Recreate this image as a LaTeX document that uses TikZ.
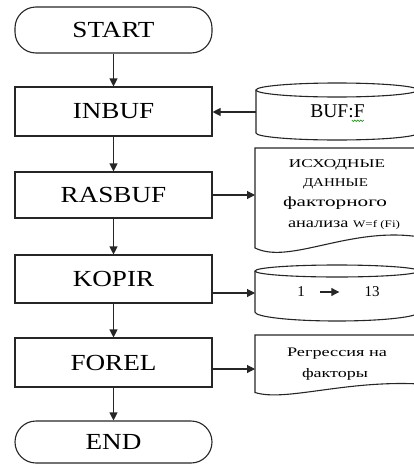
\documentclass[tikz,border=0pt]{standalone}
\usepackage{fontspec}
\setmainfont{Liberation Serif}
\usetikzlibrary{arrows.meta}
\newcommand\fitw[3]{\resizebox{#1pt}{\height}{\fontsize{#2}{#2}\selectfont #3}}
\begin{document}
\begin{tikzpicture}[x=1pt,y=-1pt,
  line/.style={draw=black!85, line width=1.1pt},
  mainbox/.style={line, rectangle, minimum width=197pt, inner sep=0pt, font=\fontsize{23}{23}\selectfont},
  term/.style={mainbox, rounded corners=21pt},
  arr/.style={line, -{Triangle[length=8pt,width=8pt]}},
  rt/.style={anchor=base, inner sep=0pt}]
\useasboundingbox (0,0) rectangle (414,466);
\clip (0,0) rectangle (414,466);

% main column
\node[term, minimum height=46pt] (start) at (113.5,30) {\scalebox{1.18}[1]{START}};
\node[mainbox, minimum height=49pt] (inbuf) at (113.5,111.5) {\scalebox{1.18}[1]{INBUF}};
\node[mainbox, minimum height=46pt] (rasbuf) at (113.5,195) {\scalebox{1.18}[1]{RASBUF}};
\node[mainbox, minimum height=48pt] (kopir) at (113.5,279) {\scalebox{1.18}[1]{KOPIR}};
\node[mainbox, minimum height=49pt] (forel) at (113.5,362.5) {\scalebox{1.18}[1]{FOREL}};
\node[term, minimum height=42pt] (end) at (113.5,442) {\scalebox{1.18}[1]{END}};

\draw[arr] (start) -- (inbuf);
\draw[arr] (inbuf) -- (rasbuf);
\draw[arr] (rasbuf) -- (kopir);
\draw[arr] (kopir) -- (forel);
\draw[arr] (forel) -- (end);

% BUF:F storage
\draw[line] (256,90) -- (256,133) arc[start angle=180, end angle=0, x radius=81, y radius=7] -- (418,90);
\draw[line] (337,90) ellipse [x radius=81, y radius=7];
\coordinate (bufL) at (256,112);
\node[rt, font=\fontsize{19.5}{19.5}\selectfont] (buf) at (337.5,117) {BUF:F};
\draw[green!50!black, line width=0.5pt] (buf.base east) ++(-13,3)
  -- ++(1.5,1.5) -- ++(1.5,-1.5) -- ++(1.5,1.5) -- ++(1.5,-1.5) -- ++(1.5,1.5)
  -- ++(1.5,-1.5) -- ++(1.5,1.5) -- ++(1.5,-1.5);

% RASBUF document
\draw[line] (255,148) -- (420,148) -- (420,237) .. controls (350,226) and (290,265) .. (255,248) -- cycle;
\coordinate (rasL) at (255,195);
\node[rt] (r1) at (337,167.3) {\fitw{96}{12}{ИСХОДНЫЕ}};
\node[rt] (r2) at (335.5,186) {\fitw{65}{12}{ДАННЫЕ}};
\node[rt] (r3) at (335,206.5) {\fitw{104}{14}{факторного}};
\node[rt] (r4) at (344,227) {\fitw{112}{14}{анализа {\fontsize{10}{10}\selectfont W=f (Fi)}}};

% KOPIR storage
\draw[line] (255,271) -- (255,312) arc[start angle=180, end angle=0, x radius=82, y radius=9] -- (419,271);
\draw[line] (337,271) ellipse [x radius=82, y radius=6];
\coordinate (kopL) at (255,293);
\node[inner sep=0pt, font=\fontsize{15}{15}\selectfont] (one) at (301,292) {1};
\node[inner sep=0pt, font=\fontsize{15}{15}\selectfont] (thirteen) at (372,292) {13};
\draw[arr, shorten <=15pt, shorten >=25pt] (one.east) -- (thirteen.west);

% FOREL document
\draw[line] (255,335) -- (420,335) -- (420,384) .. controls (345,380) and (285,402) .. (255,392.5) -- cycle;
\coordinate (forL) at (255,369);
\node[rt] (f1) at (337,356) {\fitw{100}{13}{Регрессия на}};
\node[rt] (f2) at (335,377.5) {\fitw{66}{13}{факторы}};

% connectors to the right-hand shapes
\draw[arr] (bufL) -- (inbuf.east |- bufL);
\draw[arr] (rasbuf.east |- rasL) -- (rasL);
\draw[arr] (kopir.east |- kopL) -- (kopL);
\draw[arr] (forel.east |- forL) -- (forL);
\end{tikzpicture}
\end{document}
